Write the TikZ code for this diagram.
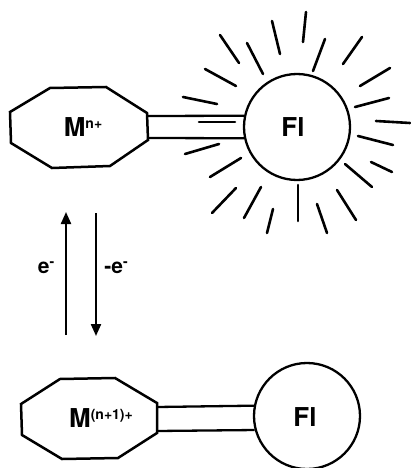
\documentclass[tikz,border=0pt]{standalone}
\usepackage{fontspec}
\setmainfont{TeX Gyre Heros}
\usetikzlibrary{arrows.meta}
\begin{document}
\begin{tikzpicture}[x=1pt,y=-1pt,
  outline/.style={line width=2.5pt,line join=miter},
  barline/.style={line width=2.3pt},
  ray/.style={line width=2.6pt,line cap=round},
  ball/.style={circle,draw,line width=2.3pt,minimum size=106pt,inner sep=0pt},
  lbl/.style={font=\fontsize{26}{28}\selectfont\bfseries,inner sep=0pt},
  elbl/.style={font=\fontsize{21}{24}\selectfont\bfseries,inner sep=0pt},
  earrow/.style={line width=2.2pt,-{Triangle[length=12pt,width=10pt]}}]
\useasboundingbox (0,0) rectangle (410,468);
% ---- top: M^{n+} -- Fl (luminescent)
\coordinate (a1) at (10,112); \coordinate (a2) at (50,88);
\coordinate (a3) at (106,87); \coordinate (a4) at (147,113);
\coordinate (a5) at (148,140); \coordinate (a6) at (110,166);
\coordinate (a7) at (52,168); \coordinate (a8) at (11,143);
\draw[outline] (a1)--(a2)--(a3)--(a4)--(a5)--(a6)--(a7)--(a8)--cycle;
\node[lbl] (m1) at (83,127) {M\raisebox{8pt}{\fontsize{14}{14}\selectfont n+}};
\node[ball] (fl1) at (297,127) {};
\node[lbl] (t1) at (293,127) {Fl};
\coordinate (b1) at (147.5,116); \coordinate (b2) at (148,138);
\draw[barline] (b1) -- (fl1.168);
\draw[barline] (b2) -- (fl1.192);
% rays
\foreach \p/\q in {
  {220,35}/{239,63}, {247,43}/{263,74}, {272,21}/{280,54}, {306,12}/{303,42},
  {325,39}/{313,71}, {362,37}/{343,64}, {390,68}/{360,86}, {389,98}/{355,107},
  {376,121}/{410,123}, {358,136}/{393,145}, {371,162}/{392,172}, {345,164}/{372,187},
  {337,190}/{356,220}, {317,204}/{327,233}, {298,185}/{298,221}, {273,209}/{267,233},
  {261,187}/{244,218}, {236,188}/{212,213}, {241,158}/{210,177}, {219,144}/{185,154},
  {199,122}/{235,122}, {217,104}/{183,97}, {236,86}/{205,69}}
  \draw[ray] (\p) -- (\q);
% ---- arrows
\coordinate (u0) at (66,335); \coordinate (u1) at (66,212);
\coordinate (d0) at (96,213); \coordinate (d1) at (96,336);
\draw[earrow] (u0) -- (u1);
\draw[earrow] (d0) -- (d1);
\node[elbl] (e1) at (46,268) {e\raisebox{7pt}{\fontsize{14}{14}\selectfont -}};
\node[elbl] (e2) at (116,268) {-e\raisebox{7pt}{\fontsize{14}{14}\selectfont -}};
% ---- bottom: M^{(n+1)+} -- Fl
\coordinate (c1) at (21,404); \coordinate (c2) at (60,379);
\coordinate (c3) at (115,378); \coordinate (c4) at (157,403);
\coordinate (c5) at (157,433); \coordinate (c6) at (118,458);
\coordinate (c7) at (62,459); \coordinate (c8) at (22,435);
\draw[outline] (c1)--(c2)--(c3)--(c4)--(c5)--(c6)--(c7)--(c8)--cycle;
\node[lbl] (m2) at (101,418) {M\raisebox{8pt}{\fontsize{14}{14}\selectfont (n+1)+}};
\node[ball] (fl2) at (307,416) {};
\node[lbl] (t2) at (305,417) {Fl};
\coordinate (g1) at (157,407); \coordinate (g2) at (157,431);
\draw[barline] (g1) -- (fl2.169);
\draw[barline] (g2) -- (fl2.195);
\end{tikzpicture}
\end{document}
